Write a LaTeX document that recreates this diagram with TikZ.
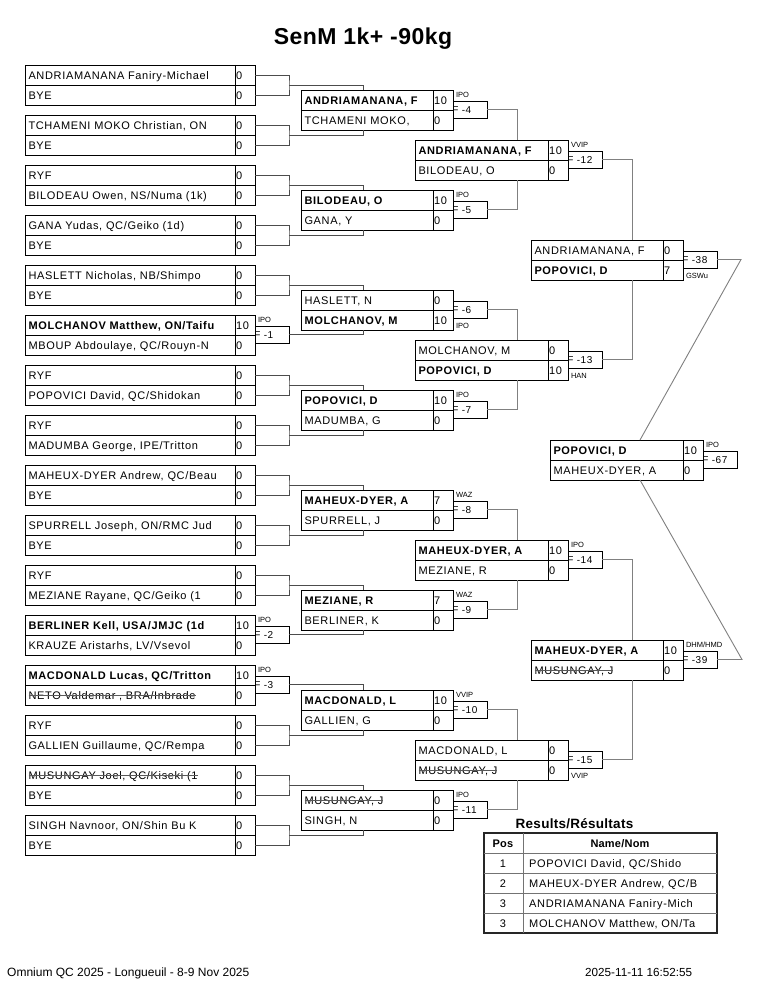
\documentclass[tikz,border=0pt]{standalone}
\usepackage{fontspec}
\setmainfont{Liberation Sans}
\newfontfamily\nf[LetterSpace=6]{Liberation Sans}
\newfontfamily\tf[LetterSpace=2]{Liberation Sans}
\usetikzlibrary{calc}
\newsavebox\strkbox
\newcommand\strk[1]{\sbox\strkbox{#1}\usebox\strkbox\hspace*{-\wd\strkbox}\textcolor{black!65}{\rule[0.33em]{\wd\strkbox}{0.7pt}}}
\tikzset{
 bxfr/.style={draw=black, line width=0.9pt, inner sep=0pt, outer sep=0pt, rectangle, anchor=north west},
 bxsep/.style={draw=black, line width=0.9pt},
 bxtx/.style={anchor=base west, inner sep=0pt, outer sep=0pt, font=\nf\fontsize{11}{13}\selectfont},
 fbx/.style={draw=black, line width=0.9pt, inner sep=0pt, outer sep=0pt, rectangle, minimum width=34pt, minimum height=17pt, anchor=north west},
 ftx/.style={anchor=base west, inner sep=0pt, outer sep=0pt, font=\nf\fontsize{10}{12}\selectfont},
 lbl/.style={anchor=base west, inner sep=0pt, outer sep=0pt, font=\fontsize{7.5}{9}\selectfont},
 cnA/.style={draw=black!70, line width=0.9pt},
 cnB/.style={draw=black!50, line width=0.9pt},
 ttl/.style={anchor=base, inner sep=0pt, font=\tf\fontsize{23}{27}\selectfont\bfseries},
 rttl/.style={anchor=base, inner sep=0pt, font=\tf\fontsize{13.5}{16}\selectfont\bfseries},
 tblfr/.style={draw=black!85, line width=1.6pt, inner sep=0pt, outer sep=0pt, rectangle, anchor=north west},
 tbln/.style={draw=black!55, line width=0.8pt},
 tbh/.style={anchor=base, inner sep=0pt, font=\tf\fontsize{11}{13}\selectfont\bfseries},
 tbc/.style={anchor=base, inner sep=0pt, font=\nf\fontsize{11}{13}\selectfont},
 tbn/.style={anchor=base west, inner sep=0pt, font=\nf\fontsize{11}{13}\selectfont},
 foot/.style={anchor=base west, inner sep=0pt, font=\fontsize{12}{14}\selectfont},
 footd/.style={anchor=base west, inner sep=0pt, font=\fontsize{11.7}{14}\selectfont},
}
% id, x, y, name width, name1, score1, name2, score2, input offset
\newcommand\bx[9]{%
 \node[bxfr, minimum width=#4+20, minimum height=40] (#1) at (#2,#3) {};
 \draw[bxsep] (#1.west) -- (#1.east);
 \draw[bxsep] ([xshift=#4]#1.north west) -- ([xshift=#4]#1.south west);
 \node[bxtx] (#1-n1) at ([xshift=3.5,yshift=-14]#1.north west) {#5};
 \node[bxtx] (#1-s1) at ([xshift=#4+1,yshift=-14]#1.north west) {#6};
 \node[bxtx] (#1-n2) at ([xshift=3.5,yshift=-34]#1.north west) {#7};
 \node[bxtx] (#1-s2) at ([xshift=#4+1,yshift=-34]#1.north west) {#8};
 \coordinate (#1-it) at ([xshift=#9]#1.north west);
 \coordinate (#1-ib) at ([xshift=#9]#1.south west);
 \coordinate (#1-r1) at ([yshift=-10]#1.north east);
 \coordinate (#1-r2) at ([yshift=10]#1.south east);
 \coordinate (#1-o) at ([xshift=34]#1.east);
}
% F box with label above
\newcommand\fa[4]{%
 \node[fbx] (#1) at ([yshift=-11]#2.north east) {};
 \node[ftx] (#1-t) at ([xshift=-0.7,yshift=-12.5]#1.north west) {#3};
 \node[lbl] (#1-l) at ([xshift=3,yshift=4]#1.north west) {#4};
}
% F box with label below
\newcommand\fb[4]{%
 \node[fbx] (#1) at ([yshift=-11]#2.north east) {};
 \node[ftx] (#1-t) at ([xshift=-0.7,yshift=-12.5]#1.north west) {#3};
 \node[lbl] (#1-l) at ([xshift=3,yshift=-10]#1.south west) {#4};
}
\begin{document}
\begin{tikzpicture}[x=1pt,y=-1pt]
\useasboundingbox (0,0) rectangle (765,990);
\fill[white] (0,0) rectangle (765,990);

\node[ttl] (title) at (363,45) {SenM 1k+ -90kg};

% Round 1
\bx{a1}{25}{65}{210}{ANDRIAMANANA Faniry-Michael}{0}{BYE}{0}{0}
\bx{a2}{25}{115}{210}{TCHAMENI MOKO Christian, ON}{0}{BYE}{0}{0}
\bx{a3}{25}{165}{210}{RYF}{0}{BILODEAU Owen, NS/Numa (1k)}{0}{0}
\bx{a4}{25}{215}{210}{GANA Yudas, QC/Geiko (1d)}{0}{BYE}{0}{0}
\bx{a5}{25}{265}{210}{HASLETT Nicholas, NB/Shimpo}{0}{BYE}{0}{0}
\bx{a6}{25}{315}{210}{\textbf{MOLCHANOV Matthew, ON/Taifu}}{10}{MBOUP Abdoulaye, QC/Rouyn-N}{0}{0}
\bx{a7}{25}{365}{210}{RYF}{0}{POPOVICI David, QC/Shidokan}{0}{0}
\bx{a8}{25}{415}{210}{RYF}{0}{MADUMBA George, IPE/Tritton}{0}{0}
\bx{a9}{25}{465}{210}{MAHEUX-DYER Andrew, QC/Beau}{0}{BYE}{0}{0}
\bx{a10}{25}{515}{210}{SPURRELL Joseph, ON/RMC Jud}{0}{BYE}{0}{0}
\bx{a11}{25}{565}{210}{RYF}{0}{MEZIANE Rayane, QC/Geiko (1}{0}{0}
\bx{a12}{25}{615}{210}{\textbf{BERLINER Kell, USA/JMJC (1d}}{10}{KRAUZE Aristarhs, LV/Vsevol}{0}{0}
\bx{a13}{25}{665}{210}{\textbf{MACDONALD Lucas, QC/Tritton}}{10}{\strk{NETO Valdemar , BRA/Inbrade}}{0}{0}
\bx{a14}{25}{715}{210}{RYF}{0}{GALLIEN Guillaume, QC/Rempa}{0}{0}
\bx{a15}{25}{765}{210}{\strk{MUSUNGAY Joel, QC/Kiseki (1}}{0}{BYE}{0}{0}
\bx{a16}{25}{815}{210}{SINGH Navnoor, ON/Shin Bu K}{0}{BYE}{0}{0}
\fa{f1}{a6}{F -1}{IPO}
\fa{f2}{a12}{F -2}{IPO}
\fa{f3}{a13}{F -3}{IPO}

% Round 2
\bx{b1}{301}{90}{132}{\textbf{ANDRIAMANANA, F}}{10}{TCHAMENI MOKO,}{0}{62}
\bx{b2}{301}{190}{132}{\textbf{BILODEAU, O}}{10}{GANA, Y}{0}{62}
\bx{b3}{301}{290}{132}{HASLETT, N}{0}{\textbf{MOLCHANOV, M}}{10}{62}
\bx{b4}{301}{390}{132}{\textbf{POPOVICI, D}}{10}{MADUMBA, G}{0}{62}
\bx{b5}{301}{490}{132}{\textbf{MAHEUX-DYER, A}}{7}{SPURRELL, J}{0}{62}
\bx{b6}{301}{590}{132}{\textbf{MEZIANE, R}}{7}{BERLINER, K}{0}{62}
\bx{b7}{301}{690}{132}{\textbf{MACDONALD, L}}{10}{GALLIEN, G}{0}{62}
\bx{b8}{301}{790}{132}{\strk{MUSUNGAY, J}}{0}{SINGH, N}{0}{62}
\fa{f4}{b1}{F -4}{IPO}
\fa{f5}{b2}{F -5}{IPO}
\fb{f6}{b3}{F -6}{IPO}
\fa{f7}{b4}{F -7}{IPO}
\fa{f8}{b5}{F -8}{WAZ}
\fa{f9}{b6}{F -9}{WAZ}
\fa{f10}{b7}{F -10}{VVIP}
\fa{f11}{b8}{F -11}{IPO}

% Round 3
\bx{c1}{415}{140}{133}{\textbf{ANDRIAMANANA, F}}{10}{BILODEAU, O}{0}{102}
\bx{c2}{415}{340}{133}{MOLCHANOV, M}{0}{\textbf{POPOVICI, D}}{10}{102}
\bx{c3}{415}{540}{133}{\textbf{MAHEUX-DYER, A}}{10}{MEZIANE, R}{0}{102}
\bx{c4}{415}{740}{133}{MACDONALD, L}{0}{\strk{MUSUNGAY, J}}{0}{102}
\fa{f12}{c1}{F -12}{VVIP}
\fb{f13}{c2}{F -13}{HAN}
\fa{f14}{c3}{F -14}{IPO}
\fb{f15}{c4}{F -15}{VVIP}

% Round 4
\bx{d1}{531}{240}{132}{ANDRIAMANANA, F}{0}{\textbf{POPOVICI, D}}{7}{101}
\bx{d2}{531}{640}{132}{\textbf{MAHEUX-DYER, A}}{10}{\strk{MUSUNGAY, J}}{0}{101}
\fb{f38}{d1}{F -38}{GSWu}
\fa{f39}{d2}{F -39}{DHM/HMD}

% Final
\bx{e1}{550}{440}{133}{\textbf{POPOVICI, D}}{10}{MAHEUX-DYER, A}{0}{90}
\fa{f67}{e1}{F -67}{IPO}

% Round 1 brackets (byes)
\foreach \i in {a1,a2,a3,a4,a5,a7,a8,a9,a10,a11,a14,a15,a16}{
 \draw[cnA] (\i-r1) -| (\i-o) |- (\i-r2);
}
% Round 1 -> Round 2
\draw[cnA] (a1-o) -| (b1-it);  \draw[cnA] (a2-o) -| (b1-ib);
\draw[cnA] (a3-o) -| (b2-it);  \draw[cnA] (a4-o) -| (b2-ib);
\draw[cnA] (a5-o) -| (b3-it);  \draw[cnA] (f1.east) -| (b3-ib);
\draw[cnA] (a7-o) -| (b4-it);  \draw[cnA] (a8-o) -| (b4-ib);
\draw[cnA] (a9-o) -| (b5-it);  \draw[cnA] (a10-o) -| (b5-ib);
\draw[cnA] (a11-o) -| (b6-it); \draw[cnA] (f2.east) -| (b6-ib);
\draw[cnA] (f3.east) -| (b7-it); \draw[cnA] (a14-o) -| (b7-ib);
\draw[cnA] (a15-o) -| (b8-it); \draw[cnA] (a16-o) -| (b8-ib);
% Round 2 -> Round 3
\draw[cnB] (f4.east) -| (c1-it);  \draw[cnB] (f5.east) -| (c1-ib);
\draw[cnB] (f6.east) -| (c2-it);  \draw[cnB] (f7.east) -| (c2-ib);
\draw[cnB] (f8.east) -| (c3-it);  \draw[cnB] (f9.east) -| (c3-ib);
\draw[cnB] (f10.east) -| (c4-it); \draw[cnB] (f11.east) -| (c4-ib);
% Round 3 -> Round 4
\draw[cnB] (f12.east) -| (d1-it); \draw[cnB] (f13.east) -| (d1-ib);
\draw[cnB] (f14.east) -| (d2-it); \draw[cnB] (f15.east) -| (d2-ib);
% Round 4 -> Final
\coordinate (k38) at ([xshift=24]f38.east);
\coordinate (k39) at ([xshift=25]f39.east);
\draw[cnB] (f38.east) -- (k38) -- (e1-it);
\draw[cnB] (f39.east) -- (k39) -- (e1-ib);

% Results
\node[rttl] (rt) at (574.5,828) {Results/Résultats};
\node[tblfr, minimum width=233, minimum height=100] (tbl) at (484,833) {};
\foreach \j in {1,2,3,4}{
 \draw[tbln] ([yshift=-20*\j]tbl.north west) -- ([yshift=-20*\j]tbl.north east);
}
\draw[tbln] ([xshift=39]tbl.north west) -- ([xshift=39]tbl.south west);
\node[tbh] (th1) at ([xshift=19,yshift=-14]tbl.north west) {Pos};
\node[tbh] (th2) at ([xshift=136,yshift=-14]tbl.north west) {Name/Nom};
\node[tbc] (p1) at ([xshift=19,yshift=-34]tbl.north west) {1};
\node[tbn] (n1) at ([xshift=45,yshift=-34]tbl.north west) {POPOVICI David, QC/Shido};
\node[tbc] (p2) at ([xshift=19,yshift=-54]tbl.north west) {2};
\node[tbn] (n2) at ([xshift=45,yshift=-54]tbl.north west) {MAHEUX-DYER Andrew, QC/B};
\node[tbc] (p3) at ([xshift=19,yshift=-74]tbl.north west) {3};
\node[tbn] (n3) at ([xshift=45,yshift=-74]tbl.north west) {ANDRIAMANANA Faniry-Mich};
\node[tbc] (p4) at ([xshift=19,yshift=-94]tbl.north west) {3};
\node[tbn] (n4) at ([xshift=45,yshift=-94]tbl.north west) {MOLCHANOV Matthew, ON/Ta};

% Footer
\node[foot] (ft1) at (7,976) {Omnium QC 2025 - Longueuil - 8-9 Nov 2025};
\node[footd] (ft2) at (585,976) {2025-11-11 16:52:55};
\end{tikzpicture}
\end{document}
